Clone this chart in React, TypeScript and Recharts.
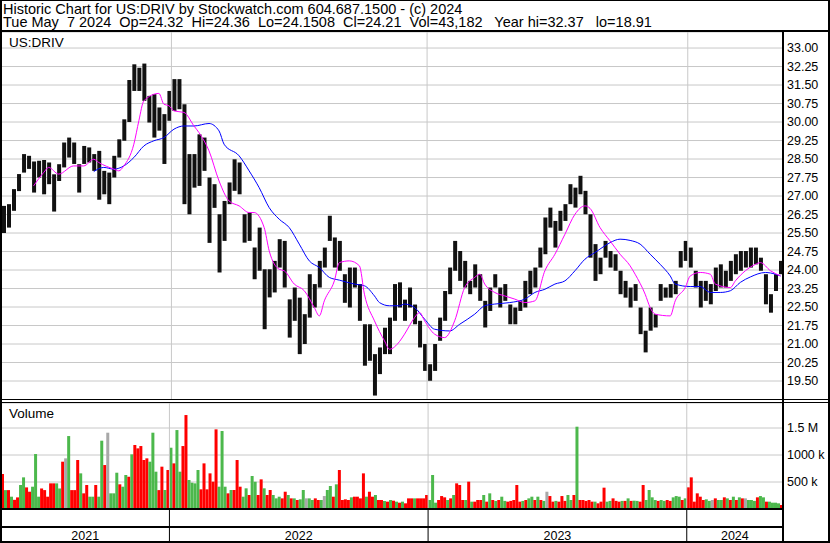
import { Bar, CartesianGrid, Cell, ComposedChart, Line, ReferenceLine, XAxis, YAxis } from "recharts";

const FONT = '"Liberation Sans", Arial, sans-serif';

// one bar per ~5 sessions (high / low)
const weekHigh = [
  26.6, 26.67, 27.28, 27.89, 28.7, 28.63, 28.4, 28.43, 28.46, 28.36,
  27.88, 28.29, 29.17, 29.37, 29.17, 28.29, 29.03, 28.97, 28.7, 28.83,
  28.02, 27.95, 28.63, 29.3, 30.11, 31.7, 32.34, 32.2, 32.37, 31.06,
  31.13, 30.59, 30.32, 31.26, 31.74, 31.74, 30.72, 28.7, 28.7, 29.5,
  29.37, 27.75, 27.48, 26.26, 26.8, 27.55, 28.49, 28.36, 26.26, 26.33,
  24.91, 25.72, 24.03, 24.03, 24.37, 25.25, 25.18, 22.81, 23.29, 22.88,
  22.21, 23.83, 23.43, 24.37, 24.91, 26.2, 25.32, 25.18, 23.83, 24.1,
  24.1, 23.43, 21.8, 21.8, 20.59, 20.86, 21.66, 22.07, 23.43, 23.5,
  22.8, 23.29, 22.6, 21.94, 21.0, 20.18, 21.0, 22.07, 23.15, 24.1,
  25.18, 24.77, 24.37, 23.56, 24.23, 23.83, 22.75, 23.29, 23.83, 23.29,
  23.43, 22.6, 22.48, 22.75, 23.56, 23.97, 24.1, 24.91, 26.13, 26.53,
  25.99, 26.4, 26.67, 27.48, 27.34, 27.82, 27.21, 26.26, 25.05, 24.5,
  25.18, 24.77, 24.64, 23.97, 23.56, 23.29, 23.43, 22.48, 21.54, 22.48,
  22.21, 23.43, 23.29, 23.43, 23.56, 24.77, 25.18, 24.91, 23.97, 23.56,
  23.56, 23.43, 24.1, 24.23, 23.97, 24.37, 24.64, 24.77, 24.77, 24.91,
  24.91, 24.5, 23.83, 23.02, 23.83, 24.37,
];
const weekLow = [
  25.5, 25.72, 26.4, 27.2, 27.95, 28.1, 27.14, 27.75, 27.07, 27.48,
  26.37, 27.61, 28.16, 28.56, 28.3, 27.14, 28.3, 28.36, 28.02, 26.85,
  27.07, 26.67, 27.75, 28.56, 29.24, 30.0, 31.26, 31.26, 30.86, 29.98,
  29.37, 29.65, 28.3, 30.05, 30.45, 30.52, 26.67, 26.26, 27.34, 27.41,
  28.02, 25.1, 26.52, 23.9, 25.18, 26.67, 27.21, 27.07, 25.11, 25.18,
  23.63, 23.97, 21.6, 22.89, 23.09, 24.1, 23.29, 21.26, 21.94, 20.59,
  21.0, 22.07, 22.48, 23.29, 24.1, 25.18, 24.1, 23.97, 22.67, 22.48,
  23.29, 21.94, 20.12, 20.32, 18.91, 19.78, 20.59, 20.59, 21.94, 22.48,
  21.94, 22.48, 21.8, 20.86, 19.91, 19.51, 19.91, 21.13, 21.94, 23.02,
  23.97, 23.56, 23.29, 23.02, 23.29, 22.75, 21.67, 22.34, 23.29, 22.48,
  22.75, 21.8, 21.8, 22.34, 22.48, 23.02, 23.29, 24.1, 24.64, 25.72,
  24.91, 25.59, 25.99, 26.67, 26.53, 27.07, 26.26, 24.5, 23.56, 23.83,
  24.5, 24.1, 23.97, 23.02, 22.88, 22.48, 22.75, 21.4, 20.66, 21.54,
  21.67, 22.75, 22.88, 22.88, 23.02, 24.1, 24.37, 24.1, 23.29, 22.48,
  22.75, 22.61, 23.15, 23.29, 23.29, 23.56, 23.83, 23.97, 24.1, 24.1,
  24.23, 23.97, 22.61, 22.27, 23.15, 23.83,
];

// moving averages (bar index -> value)
const fastMaAt = [
  6, 8, 9, 11, 14, 16, 18, 19, 22, 23, 24, 26, 27, 28, 31, 32, 33, 34, 36, 38,
  39, 41, 43, 45, 47, 49, 50, 52, 53, 55, 56, 58, 60, 62, 63, 64, 66, 67, 69, 71,
  72, 74, 76, 77, 79, 80, 82, 83, 84, 86, 88, 90, 92, 94, 95, 96, 98, 100, 102, 104,
  106, 108, 110, 112, 114, 116, 117, 119, 121, 123, 125, 126, 128, 129, 130, 133, 134, 136, 137, 139,
  141, 142, 145, 146, 148, 150, 151, 153, 155,
];
const fastMa = [
  27.41, 27.95, 28.16, 27.89, 28.22, 28.22, 28.49, 28.36, 28.09, 28.02, 28.22, 29.1, 30.05, 30.86, 31.16, 30.72, 30.66, 30.45, 30.39, 29.84,
  29.57, 28.83, 27.61, 26.8, 26.6, 26.33, 26.33, 25.72, 24.78, 24.03, 23.97, 23.43, 23.16, 22.48, 22.14, 22.75, 23.56, 24.3, 24.37, 24.17,
  23.02, 21.94, 21.13, 20.79, 21.1, 21.4, 22.07, 22.28, 21.94, 21.4, 21.26, 21.94, 23.29, 23.7, 23.83, 23.43, 23.09, 22.95, 22.82, 22.68,
  22.75, 23.97, 24.64, 25.45, 26.26, 26.6, 26.5, 25.72, 25.18, 24.64, 24.17, 23.83, 23.02, 22.48, 22.21, 22.14, 22.75, 23.29, 23.76, 23.9,
  23.83, 23.43, 23.29, 23.56, 23.97, 24.23, 24.3, 23.97, 23.76,
];
const slowMaAt = [
  18, 20, 22, 24, 26, 28, 30, 32, 34, 36, 38, 41, 43, 44, 47, 49, 51, 53, 55, 57,
  59, 61, 63, 65, 67, 70, 72, 74, 75, 77, 79, 80, 82, 84, 86, 89, 91, 94, 96, 98,
  101, 104, 106, 108, 110, 112, 114, 116, 118, 119, 121, 123, 125, 127, 129, 131, 133, 134, 137, 139,
  141, 143, 145, 147, 149, 152, 154, 155,
];
const slowMa = [
  27.99, 28.16, 28.09, 28.22, 28.56, 29.03, 29.24, 29.37, 29.71, 29.84, 29.84, 29.94, 29.64, 29.1, 28.63, 28.02, 27.34, 26.53, 26.06, 25.72,
  25.05, 24.37, 24.1, 23.7, 23.59, 23.43, 23.36, 22.95, 22.68, 22.55, 22.55, 22.62, 22.48, 22.01, 21.6, 21.53, 21.8, 22.21, 22.55, 22.62,
  22.68, 22.82, 23.09, 23.22, 23.43, 23.56, 23.97, 24.44, 24.71, 24.85, 25.11, 25.25, 25.2, 25.05, 24.64, 24.23, 23.76, 23.43, 23.33, 23.33,
  23.09, 23.09, 23.16, 23.5, 23.72, 23.9, 23.83, 23.76,
];

// volume in thousands, one bar per ~3 sessions
const volumeK = [
  648, 350, 350, 228, 170, 215, 444, 586, 400, 320,
  413, 1018, 228, 380, 350, 228, 475, 475, 475, 380,
  876, 938, 1351, 350, 350, 907, 660, 290, 444, 228,
  228, 444, 228, 1265, 814, 1413, 290, 290, 672, 457,
  413, 630, 598, 1012, 1185, 1123, 1166, 907, 938, 876,
  1413, 691, 350, 784, 352, 722, 1135, 845, 1462, 691,
  1166, 1740, 537, 487, 475, 722, 364, 845, 364, 660,
  506, 1475, 413, 1444, 413, 290, 352, 352, 907, 413,
  228, 383, 259, 611, 506, 259, 549, 383, 259, 352,
  259, 197, 228, 197, 320, 259, 197, 197, 167, 179,
  352, 197, 197, 167, 197, 167, 167, 240, 352, 426,
  228, 457, 722, 167, 179, 167, 216, 228, 228, 197,
  660, 228, 320, 228, 259, 167, 167, 148, 136, 167,
  154, 136, 117, 136, 105, 197, 197, 197, 197, 197,
  197, 259, 167, 630, 117, 167, 240, 216, 167, 197,
  259, 475, 444, 167, 167, 506, 136, 136, 167, 167,
  259, 136, 290, 167, 150, 167, 228, 150, 136, 150,
  167, 444, 136, 150, 167, 197, 228, 167, 228, 167,
  150, 320, 240, 136, 150, 136, 240, 150, 259, 167,
  259, 1524, 167, 167, 150, 167, 136, 136, 105, 136,
  395, 136, 150, 197, 150, 136, 150, 150, 197, 150,
  154, 150, 136, 444, 167, 352, 216, 167, 150, 167,
  150, 167, 150, 216, 240, 228, 167, 197, 401, 586,
  136, 290, 228, 167, 179, 150, 167, 197, 167, 167,
  216, 197, 167, 228, 167, 216, 197, 197, 167, 167,
  150, 216, 240, 216, 136, 136, 117, 117, 105, 74,
];
// g = up, r = down, n = unchanged
const volumeDir = (
  "rgrgrrggrr gggrrrrrgg rngrrrgrrg grggrngggr ggrgrrrrrg " +
  "ggrrgrgrgg rrggggrrrr rrgggrgrrr ggrggrrgrr gggrrgrgrg " +
  "gnggrrgngg rgrrrrgrrr rgrrgrrgrg rgrgrrrgrr rrgggrrrgr " +
  "grrrgrgrrr grgrgrggrr rrrgrggrgr gnrrgrrrgg rgrrrrrgrr " +
  "rggrrrgrgr ggrrggggrg grrgggrgrr rrrrggnrgg rgrgrgrngg grggrggggr"
).replace(/\s/g, "");

const years = ["2021", "2022", "2023", "2024"];
const yearStartVol = [56, 142, 228]; // first volume bar of 2022, 2023, 2024

const priceTicks = [
  19.5, 20.25, 21, 21.75, 22.5, 23.25, 24, 24.75, 25.5, 26.25,
  27, 27.75, 28.5, 29.25, 30, 30.75, 31.5, 32.25, 33,
];
const volumeTicks = [500, 1000, 1500];

const priceData = weekHigh.map((h, i) => ({
  i,
  range: [weekLow[i], h],
  fast: null as number | null,
  slow: null as number | null,
}));
fastMaAt.forEach((k, j) => (priceData[k].fast = fastMa[j]));
slowMaAt.forEach((k, j) => (priceData[k].slow = slowMa[j]));

const volData = volumeK.map((v, i) => ({ i, v, dir: volumeDir[i] }));
const volColor: Record<string, string> = { g: "#4cb84c", r: "#ff0000", n: "#a8a8a8" };

const volBounds = yearStartVol.map((s) => s - 0.5);
const priceBounds = yearStartVol.map((s) => Math.round((s * 3) / 5) - 0.5);
const volEdges = [-0.5, ...volBounds, volumeK.length - 0.5];
const yearMids = years.map((_, k) => (volEdges[k] + volEdges[k + 1]) / 2);

function renderYearTick(props: any) {
  const { x, y, payload } = props;
  if (volBounds.includes(payload.value)) {
    return <line x1={x} x2={x} y1={y} y2={y + 34} stroke="#000" strokeWidth={1} />;
  }
  const k = yearMids.indexOf(payload.value);
  return (
    <text x={x} y={y + 31} textAnchor="middle" fontSize={12.5} fontFamily={FONT} fill="#000">
      {years[k]}
    </text>
  );
}

const hline = (top: number, h: number, left = 0, width = 830) => (
  <div style={{ position: "absolute", top, left, width, height: h, background: "#000" }} />
);

export default function App() {
  const axisTick = { fill: "#000", fontSize: 12.5, fontFamily: FONT };
  const head = { position: "absolute" as const, left: 3, fontSize: 14.5, lineHeight: "13px", whiteSpace: "pre" as const };
  return (
    <div
      style={{
        position: "absolute",
        left: 0,
        top: 0,
        width: 830,
        height: 543,
        background: "#fff",
        fontFamily: FONT,
        overflow: "hidden",
      }}
    >
      <div style={{ ...head, top: 3 }}>Historic Chart for US:DRIV by Stockwatch.com 604.687.1500 - (c) 2024</div>
      <div style={{ ...head, top: 16 }}>
        {"Tue May  7 2024  Op=24.32  Hi=24.36  Lo=24.1508  Cl=24.21  Vol=43,182   Year hi=32.37   lo=18.91"}
      </div>

      <div style={{ position: "absolute", left: 0, top: 32 }}>
        <ComposedChart width={829} height={368} data={priceData} margin={{ top: 0, right: 0, bottom: 0, left: 1 }}>
          <CartesianGrid vertical={false} stroke="#c8c8c8" />
          <XAxis type="number" dataKey="i" domain={[-0.5, 155.5]} hide allowDataOverflow />
          <YAxis
            orientation="right"
            domain={[18.73, 33.65]}
            ticks={priceTicks}
            width={46}
            axisLine={false}
            tickLine={false}
            tickSize={2}
            tickMargin={2}
            tick={axisTick}
            tickFormatter={(v) => Number(v).toFixed(2)}
            allowDataOverflow
            interval={0}
          />
          {priceBounds.map((b) => (
            <ReferenceLine key={b} x={b} stroke="#c8c8c8" />
          ))}
          <Bar dataKey="range" fill="#111" barSize={4} isAnimationActive={false} />
          <Line type="monotone" dataKey="slow" stroke="#0000ff" strokeWidth={1} dot={false} connectNulls isAnimationActive={false} />
          <Line type="monotone" dataKey="fast" stroke="#ff00ff" strokeWidth={1} dot={false} connectNulls isAnimationActive={false} />
        </ComposedChart>
      </div>

      <div style={{ position: "absolute", left: 0, top: 403 }}>
        <ComposedChart width={829} height={139} data={volData} margin={{ top: 0, right: 0, bottom: 0, left: 1 }}>
          <CartesianGrid vertical={false} stroke="#c8c8c8" />
          <XAxis
            type="number"
            dataKey="i"
            domain={[-0.5, volumeK.length - 0.5]}
            ticks={[...volBounds, ...yearMids]}
            interval={0}
            height={33}
            axisLine={{ stroke: "#000", strokeWidth: 2 }}
            tickLine={false}
            tickSize={0}
            tickMargin={0}
            tick={renderYearTick}
            allowDataOverflow
          />
          <YAxis
            orientation="right"
            domain={[0, 1963]}
            ticks={volumeTicks}
            width={46}
            axisLine={false}
            tickLine={false}
            tickSize={2}
            tickMargin={2}
            tick={axisTick}
            tickFormatter={(v) => (v >= 1500 ? `${v / 1000} M` : `${v} k`)}
            allowDataOverflow
            interval={0}
          />
          {volBounds.map((b) => (
            <ReferenceLine key={b} x={b} stroke="#c8c8c8" />
          ))}
          <Bar dataKey="v" barSize={3} isAnimationActive={false}>
            {volData.map((d) => (
              <Cell key={d.i} fill={volColor[d.dir]} />
            ))}
          </Bar>
        </ComposedChart>
      </div>

      <div style={{ position: "absolute", left: 9, top: 35, fontSize: 13.5, lineHeight: "15px" }}>US:DRIV</div>
      <div style={{ position: "absolute", left: 9, top: 406, fontSize: 13.5, lineHeight: "15px" }}>Volume</div>

      {hline(0, 1)}
      {hline(30, 2)}
      {hline(399, 1)}
      {hline(402, 1)}
      {hline(526, 2, 0, 783)}
      {hline(541, 2)}
      <div style={{ position: "absolute", left: 0, top: 0, width: 2, height: 543, background: "#000" }} />
      <div style={{ position: "absolute", left: 782, top: 31, width: 2, height: 512, background: "#000" }} />
      <div style={{ position: "absolute", left: 828, top: 0, width: 2, height: 543, background: "#000" }} />
    </div>
  );
}
